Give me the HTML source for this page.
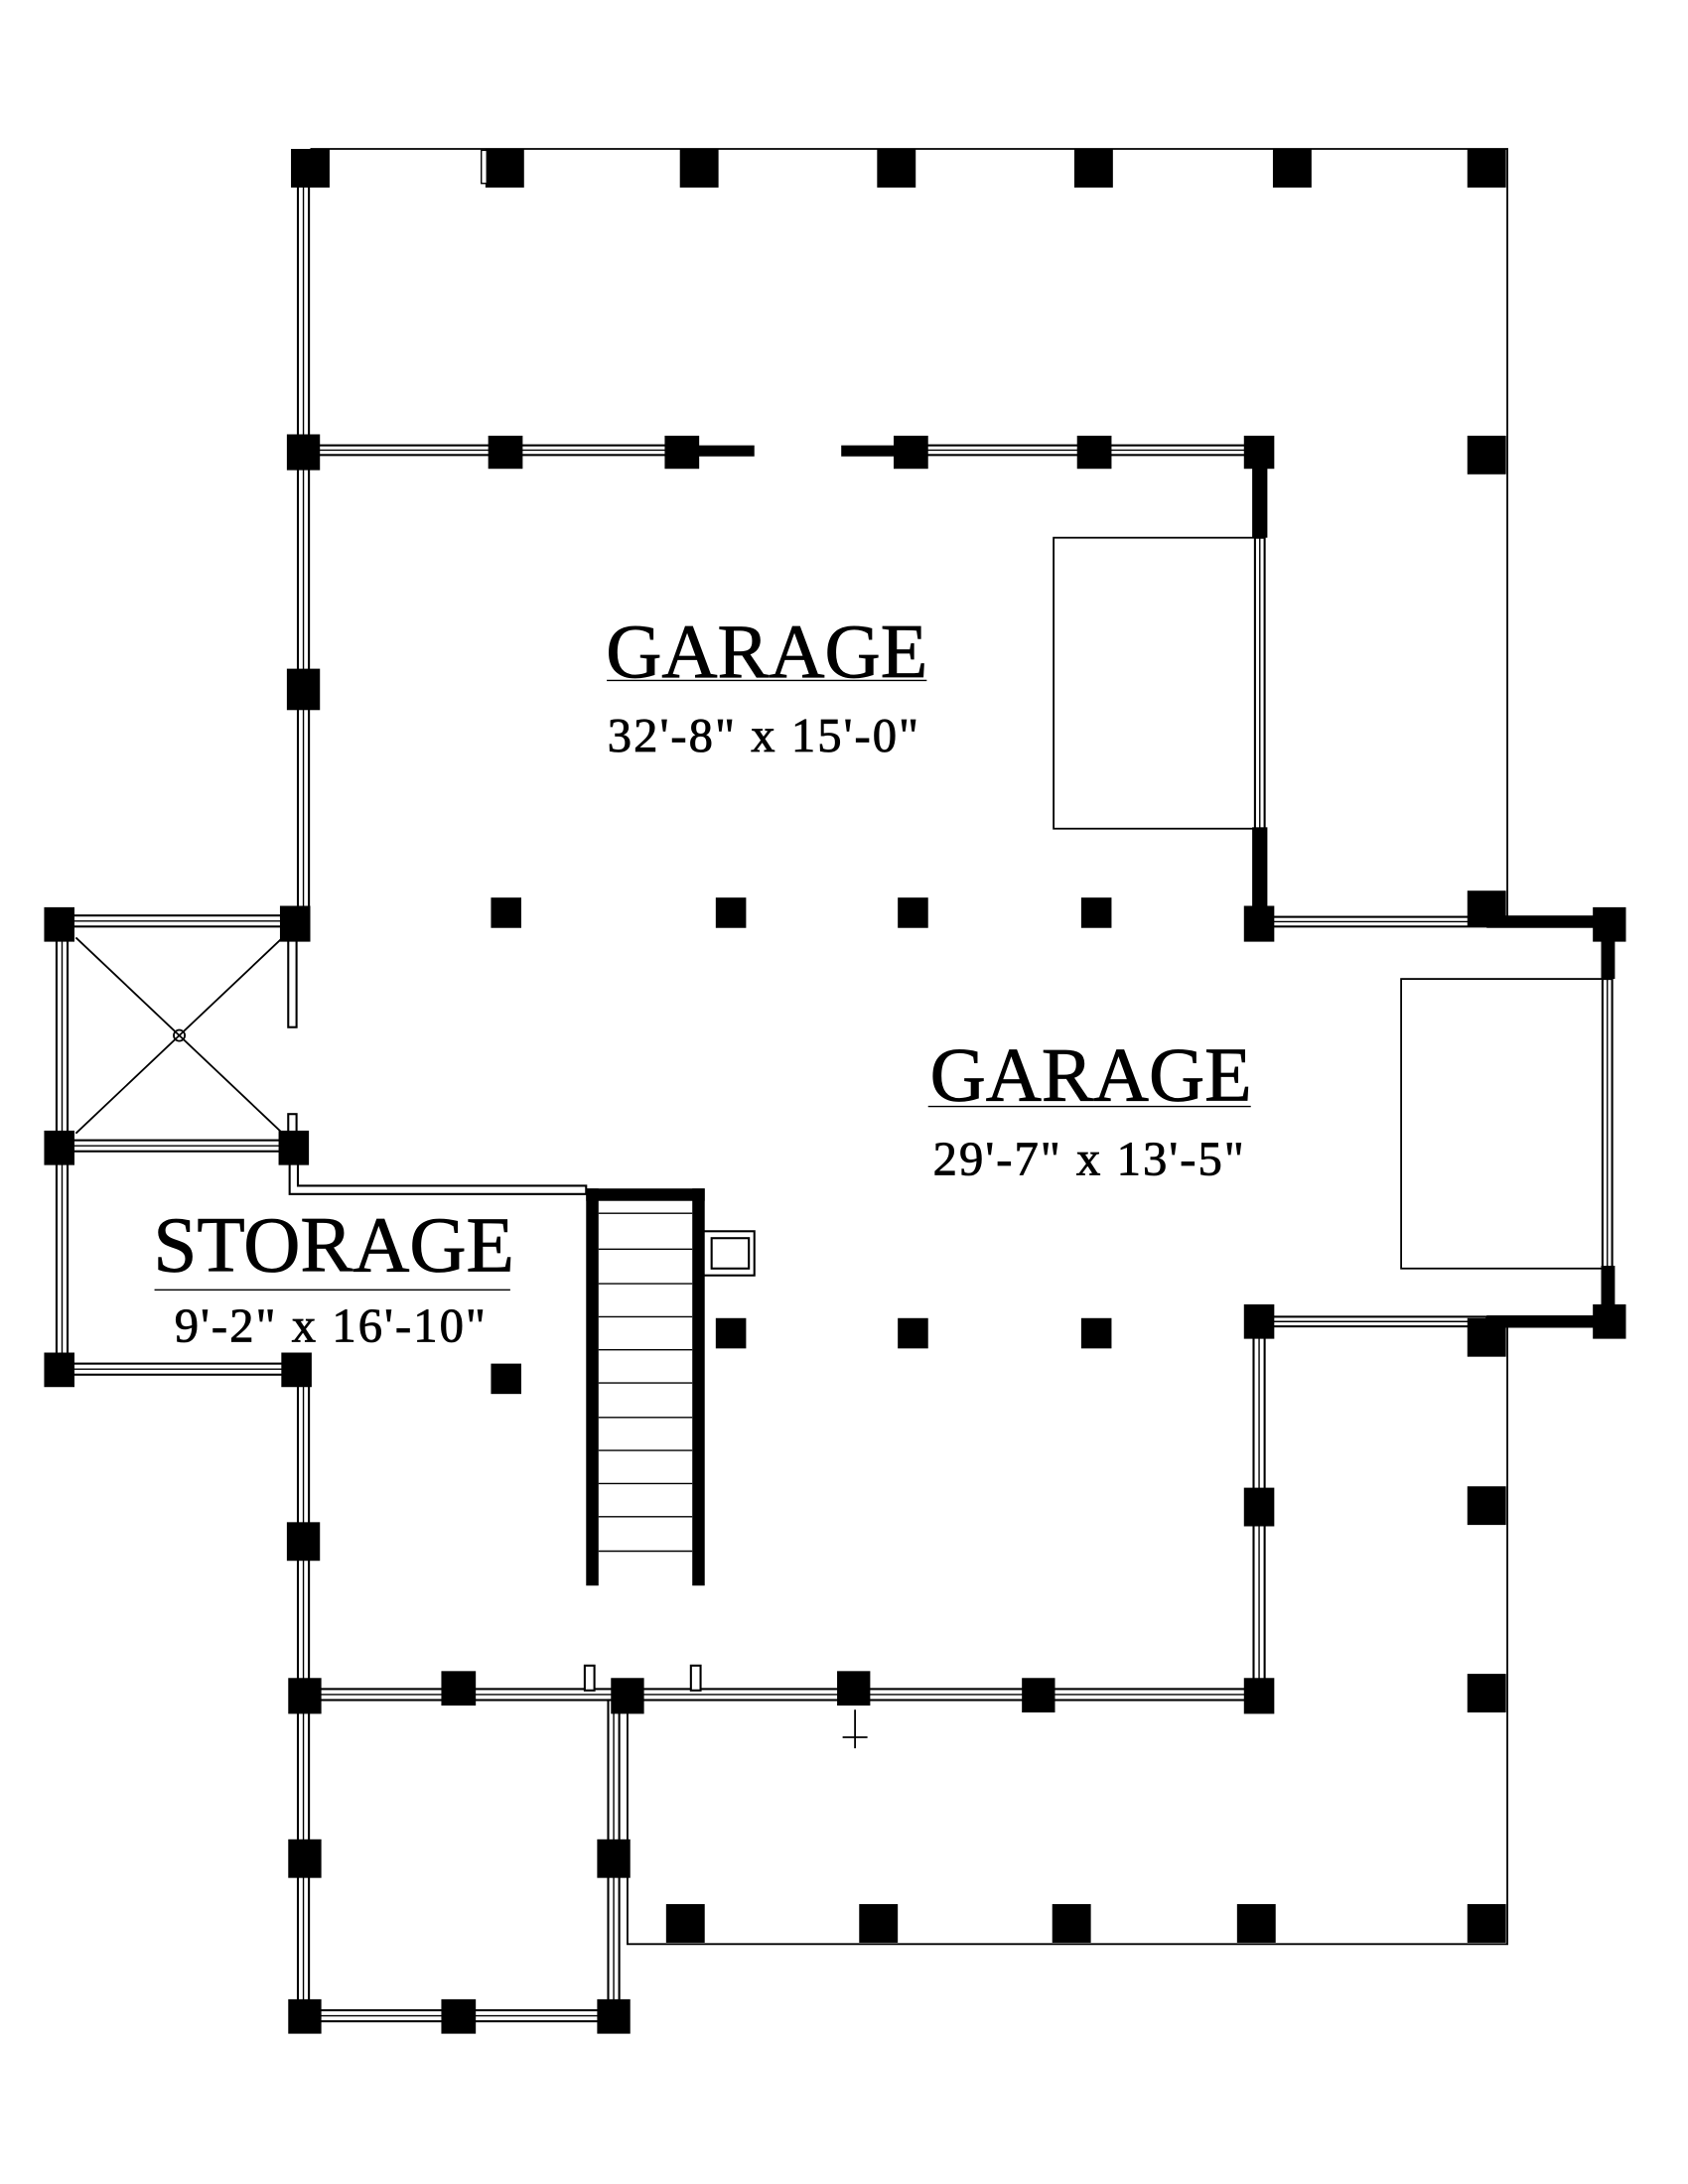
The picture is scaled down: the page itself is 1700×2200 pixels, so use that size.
<!DOCTYPE html>
<html><head><meta charset="utf-8"><style>html,body{margin:0;padding:0;background:#fff}svg{display:block}</style></head>
<body>
<svg width="1700" height="2200" viewBox="0 0 1224 1584" xmlns="http://www.w3.org/2000/svg">
<rect width="1224" height="1584" fill="#fff"/>
<g fill="none" stroke="#000" stroke-width="1.3">
<polyline points="225,108 1093,108 1093,668"/>
<polyline points="1093,960 1093,1410 455,1410 455,1233"/>
<rect x="764" y="390" width="149" height="211"/>
<rect x="1016" y="710" width="150" height="210"/>
<line x1="55" y1="680" x2="205" y2="822"/>
<line x1="205" y1="680" x2="55" y2="822"/>
<circle cx="130" cy="751" r="4"/>
<line x1="620" y1="1240" x2="620" y2="1268"/>
<line x1="611" y1="1260" x2="629" y2="1260"/>
</g>
<g fill="#fff" stroke="#000" stroke-width="1.5">
<rect x="216" y="122" width="8" height="548"/>
<rect x="220" y="323" width="280" height="7"/>
<rect x="660" y="323" width="253" height="7"/>
<rect x="910" y="390" width="7" height="211"/>
<rect x="913" y="665" width="165" height="7"/>
<rect x="1162" y="710" width="7" height="210"/>
<rect x="913" y="955" width="165" height="7"/>
<rect x="909" y="958" width="8" height="272"/>
<rect x="220" y="1225" width="693" height="8"/>
<rect x="216" y="993" width="8" height="240"/>
<rect x="216" y="1233" width="8" height="229"/>
<rect x="441" y="1233" width="8" height="229"/>
<rect x="220" y="1458" width="225" height="8"/>
<rect x="45" y="664" width="168" height="8"/>
<rect x="41" y="670" width="8" height="323"/>
<rect x="45" y="827" width="168" height="8"/>
<rect x="45" y="989" width="170" height="8"/>
<rect x="209" y="680" width="6" height="65"/>
<rect x="209" y="808" width="6" height="24"/>
<polyline points="210,832 210,866 425,866 425,860 216,860 216,832" />
<rect x="510" y="893" width="37" height="32"/>
<rect x="516" y="898" width="27" height="22"/>
<rect x="424" y="1208" width="7" height="18"/>
<rect x="501" y="1208" width="7" height="18"/>
</g>
<g stroke="#000" stroke-width="1">
<line x1="220" y1="122" x2="220" y2="670"/>
<line x1="220" y1="326.5" x2="500" y2="326.5"/>
<line x1="660" y1="326.5" x2="913" y2="326.5"/>
<line x1="913.5" y1="390" x2="913.5" y2="601"/>
<line x1="913" y1="668.5" x2="1078" y2="668.5"/>
<line x1="1165.5" y1="710" x2="1165.5" y2="920"/>
<line x1="913" y1="958.5" x2="1078" y2="958.5"/>
<line x1="913" y1="958" x2="913" y2="1230"/>
<line x1="220" y1="1229" x2="913" y2="1229"/>
<line x1="220" y1="993" x2="220" y2="1462"/>
<line x1="445" y1="1233" x2="445" y2="1462"/>
<line x1="220" y1="1462" x2="445" y2="1462"/>
<line x1="45" y1="668" x2="213" y2="668"/>
<line x1="45" y1="670" x2="45" y2="993"/>
<line x1="45" y1="831" x2="213" y2="831"/>
<line x1="45" y1="993" x2="215" y2="993"/>
</g>
<g fill="#000">
<rect x="494" y="323" width="53" height="8"/>
<rect x="610" y="323" width="55" height="8"/>
<rect x="908" y="328" width="11" height="62"/>
<rect x="908" y="600" width="11" height="70"/>
<rect x="1078" y="664" width="88" height="9"/>
<rect x="1161" y="670" width="10" height="40"/>
<rect x="1161" y="918" width="10" height="40"/>
<rect x="1078" y="954" width="88" height="9"/>
<rect x="425" y="862" width="86" height="9"/>
<rect x="425" y="862" width="9" height="288"/>
<rect x="502" y="862" width="9" height="288"/>
</g>
<g stroke="#000" stroke-width="1">
<line x1="434" y1="880" x2="502" y2="880"/><line x1="434" y1="906" x2="502" y2="906"/>
<line x1="434" y1="931" x2="502" y2="931"/><line x1="434" y1="955" x2="502" y2="955"/>
<line x1="434" y1="979" x2="502" y2="979"/><line x1="434" y1="1003" x2="502" y2="1003"/>
<line x1="434" y1="1028" x2="502" y2="1028"/><line x1="434" y1="1052" x2="502" y2="1052"/>
<line x1="434" y1="1076" x2="502" y2="1076"/><line x1="434" y1="1100" x2="502" y2="1100"/>
<line x1="434" y1="1125" x2="502" y2="1125"/>
</g>
<g fill="#000">
<rect x="211" y="108" width="28" height="28"/>
<rect x="352" y="108" width="28" height="28"/>
<rect x="493" y="108" width="28" height="28"/>
<rect x="636" y="108" width="28" height="28"/>
<rect x="779" y="108" width="28" height="28"/>
<rect x="923" y="108" width="28" height="28"/>
<rect x="1064" y="108" width="28" height="28"/>
<rect x="1064" y="316" width="28" height="28"/>
<rect x="1064" y="646" width="28" height="26"/>
<rect x="1064" y="956" width="28" height="28"/>
<rect x="1064" y="1078" width="28" height="28"/>
<rect x="1064" y="1214" width="28" height="28"/>
<rect x="1064" y="1381" width="28" height="28"/>
<rect x="483" y="1381" width="28" height="28"/>
<rect x="623" y="1381" width="28" height="28"/>
<rect x="763" y="1381" width="28" height="28"/>
<rect x="897" y="1381" width="28" height="28"/>
<rect x="208" y="315" width="24" height="26"/>
<rect x="354" y="316" width="25" height="24"/>
<rect x="482" y="316" width="25" height="24"/>
<rect x="648" y="316" width="25" height="24"/>
<rect x="781" y="316" width="25" height="24"/>
<rect x="902" y="316" width="22" height="24"/>
<rect x="208" y="485" width="24" height="30"/>
<rect x="203" y="657" width="22" height="26"/>
<rect x="902" y="657" width="22" height="26"/>
<rect x="1155" y="658" width="24" height="25"/>
<rect x="1155" y="946" width="24" height="25"/>
<rect x="902" y="946" width="22" height="25"/>
<rect x="902" y="1079" width="22" height="28"/>
<rect x="902" y="1217" width="22" height="26"/>
<rect x="32" y="658" width="22" height="25"/>
<rect x="32" y="820" width="22" height="25"/>
<rect x="32" y="981" width="22" height="25"/>
<rect x="202" y="820" width="22" height="25"/>
<rect x="204" y="981" width="22" height="25"/>
<rect x="208" y="1104" width="24" height="28"/>
<rect x="209" y="1217" width="24" height="26"/>
<rect x="320" y="1212" width="25" height="25"/>
<rect x="443" y="1217" width="24" height="26"/>
<rect x="607" y="1212" width="24" height="25"/>
<rect x="741" y="1217" width="24" height="25"/>
<rect x="209" y="1334" width="24" height="28"/>
<rect x="433" y="1334" width="24" height="28"/>
<rect x="209" y="1450" width="24" height="25"/>
<rect x="320" y="1450" width="25" height="25"/>
<rect x="433" y="1450" width="24" height="25"/>
<rect x="356" y="651" width="22" height="22"/>
<rect x="519" y="651" width="22" height="22"/>
<rect x="651" y="651" width="22" height="22"/>
<rect x="784" y="651" width="22" height="22"/>
<rect x="519" y="956" width="22" height="22"/>
<rect x="651" y="956" width="22" height="22"/>
<rect x="784" y="956" width="22" height="22"/>
<rect x="356" y="989" width="22" height="22"/>
</g>
<rect x="349" y="109" width="4" height="24" fill="#fff" stroke="#000" stroke-width="1"/>
<g font-family="'Liberation Serif', serif" fill="#000" text-anchor="middle" stroke="#000" stroke-width="0.6">
<text x="556" y="491" font-size="56">GARAGE</text>
<text x="554" y="545" font-size="35" letter-spacing="1.5">32'-8" x 15'-0"</text>
<text x="791" y="798" font-size="56">GARAGE</text>
<text x="790" y="852" font-size="35" letter-spacing="1.5">29'-7" x 13'-5"</text>
<text x="242" y="922" font-size="57">STORAGE</text>
<text x="240" y="973" font-size="35" letter-spacing="1.5">9'-2" x 16'-10"</text>
</g>
<g stroke="#000" stroke-width="1">
<line x1="440" y1="493.5" x2="672" y2="493.5"/>
<line x1="673" y1="802.5" x2="907" y2="802.5"/>
<line x1="112" y1="935.5" x2="370" y2="935.5"/>
</g>
</svg>
</body></html>
